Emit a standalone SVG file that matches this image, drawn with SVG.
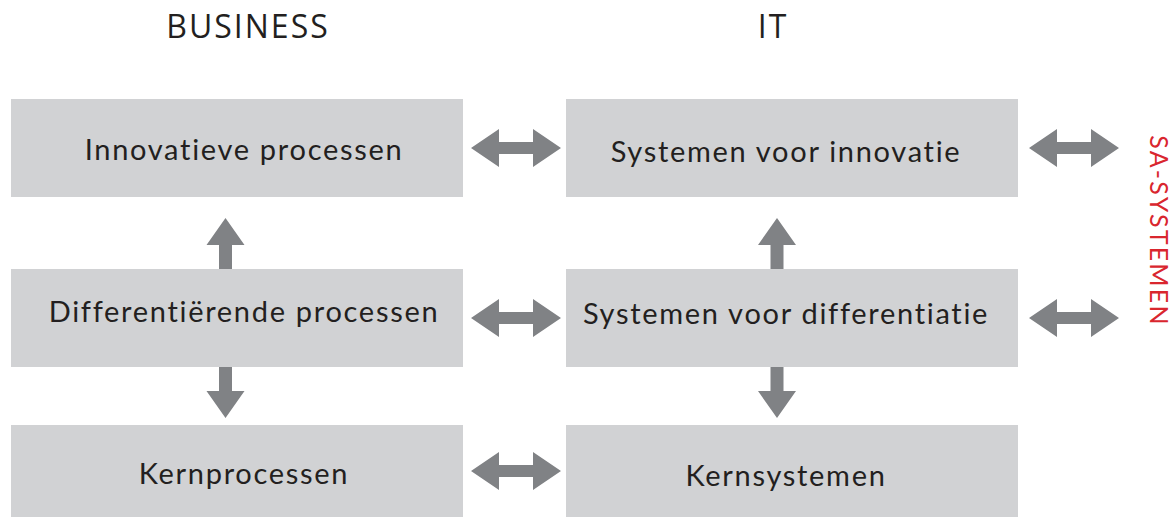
<svg xmlns="http://www.w3.org/2000/svg" width="1175" height="517" viewBox="0 0 1175 517">
<style>
.box{fill:#d1d2d4}
.t{font-family:Lato,"Noto Sans",sans-serif;font-size:29px;letter-spacing:1.7px;fill:#231f20;text-anchor:middle}
.h{font-family:"Open Sans","Noto Sans",sans-serif;font-size:32px;letter-spacing:2px;fill:#231f20;text-anchor:middle}
.arr{fill:#808285}
.sa{font-family:Lato,"Noto Sans",sans-serif;font-size:25px;letter-spacing:2.2px;fill:#d9262e;text-anchor:middle}
</style>
<defs>
<path id="dbl" d="M-45,0 L-17,-19 L-17,-6 L17,-6 L17,-19 L45,0 L17,19 L17,6 L-17,6 L-17,19 Z"/>
<path id="up" d="M0,0 L19,27 L6.5,27 L6.5,51 L-6.5,51 L-6.5,27 L-19,27 Z"/>
</defs>
<rect width="1175" height="517" fill="#ffffff"/>
<text class="h" x="248" y="38">BUSINESS</text>
<text class="h" x="773" y="38">IT</text>
<g id="n1"><rect class="box" x="11" y="99" width="452" height="98"/><text class="t" x="244" y="160">Innovatieve processen</text></g>
<g id="n2"><rect class="box" x="11" y="269" width="452" height="98"/><text class="t" x="244" y="322">Differentiërende processen</text></g>
<g id="n3"><rect class="box" x="11" y="425" width="452" height="92"/><text class="t" x="244" y="484">Kernprocessen</text></g>
<g id="n4"><rect class="box" x="566" y="99" width="452" height="98"/><text class="t" x="786" y="162">Systemen voor innovatie</text></g>
<g id="n5"><rect class="box" x="566" y="269" width="452" height="98"/><text class="t" x="786" y="324">Systemen voor differentiatie</text></g>
<g id="n6"><rect class="box" x="566" y="425" width="452" height="92"/><text class="t" x="786" y="486">Kernsystemen</text></g>
<g id="sa"><text class="sa" transform="translate(1150,231) rotate(90)">SA-SYSTEMEN</text></g>
<g id="connectors" class="arr">
<use href="#dbl" x="516" y="148"/>
<use href="#dbl" x="516" y="318"/>
<use href="#dbl" x="516" y="471"/>
<use href="#dbl" x="1074" y="148"/>
<use href="#dbl" x="1074" y="318"/>
<use href="#up" x="225.5" y="218"/>
<use href="#up" x="777" y="218"/>
<use href="#up" transform="translate(225.5,418) scale(1,-1)"/>
<use href="#up" transform="translate(777,418) scale(1,-1)"/>
</g>
</svg>
